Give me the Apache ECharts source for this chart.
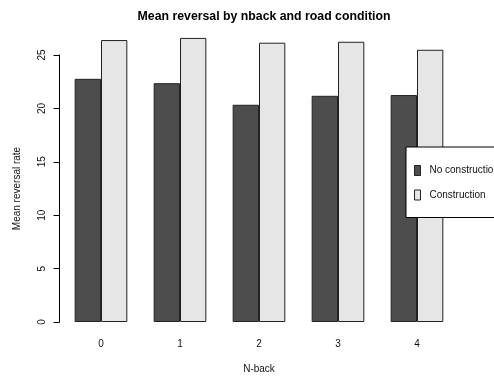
<!DOCTYPE html>
<html>
<head>
<meta charset="utf-8">
<script src="https://cdn.jsdelivr.net/npm/echarts@6/dist/echarts.min.js"></script>
<style>
  html, body { margin: 0; padding: 0; background: #fff; }
  #chart { width: 494px; height: 379px; }
</style>
</head>
<body>
<div id="chart"></div>
<script>
// N-back levels shown along the x axis
const nbackLevels = ['0', '1', '2', '3', '4'];
// Mean reversal rate per condition
const noConstruction = [22.77, 22.36, 20.34, 21.18, 21.25];
const construction = [26.40, 26.60, 26.15, 26.24, 25.49];
// Y axis tick values
const yTicks = [0, 5, 10, 15, 20, 25];

const FONT = '"Liberation Sans", Arial, sans-serif';
const chart = echarts.init(document.getElementById('chart'), null, { renderer: 'canvas' });

chart.setOption({
  animation: false,
  backgroundColor: '#ffffff',
  title: {
    text: 'Mean reversal by nback and road condition',
    left: 259,
    top: 6,
    textAlign: 'center',
    textStyle: { fontFamily: FONT, fontSize: 12.3, fontWeight: 'bold', color: '#000' }
  },
  grid: { left: 61.5, right: 37.5, top: 55, bottom: 55.5, containLabel: false },
  legend: {
    orient: 'vertical',
    left: 406,
    top: 147,
    padding: [18, 120, 17, 8],
    itemGap: 13.5,
    itemWidth: 6,
    itemHeight: 10,
    backgroundColor: '#ffffff',
    borderColor: '#000000',
    borderWidth: 1,
    borderRadius: 0,
    icon: 'rect',
    textStyle: { fontFamily: FONT, fontSize: 10, color: '#111', padding: [0, 0, 0, 4] },
    data: [
      { name: 'No construction', itemStyle: { color: '#4d4d4d', borderColor: '#222', borderWidth: 1 } },
      { name: 'Construction', itemStyle: { color: '#e6e6e6', borderColor: '#222', borderWidth: 1 } }
    ]
  },
  xAxis: {
    type: 'category',
    data: nbackLevels,
    boundaryGap: true,
    axisLine: { show: false },
    axisTick: { show: false },
    axisLabel: { margin: 17, fontFamily: FONT, fontSize: 10, color: '#111' },
    name: 'N-back',
    nameLocation: 'middle',
    nameGap: 42,
    nameTextStyle: { fontFamily: FONT, fontSize: 10, color: '#111' }
  },
  yAxis: {
    type: 'value',
    min: 0,
    max: 25,
    interval: 5,
    offset: 2,
    splitLine: { show: false },
    axisLine: { show: true, lineStyle: { color: '#000', width: 1 } },
    axisTick: { show: true, length: 6, lineStyle: { color: '#000' }, customValues: yTicks },
    axisLabel: { rotate: 90, margin: 12, fontFamily: FONT, fontSize: 10, color: '#111', customValues: yTicks },
    name: 'Mean reversal rate',
    nameLocation: 'middle',
    nameGap: 37,
    nameTextStyle: { fontFamily: FONT, fontSize: 10, color: '#111' }
  },
  series: [
    {
      name: 'No construction',
      type: 'bar',
      data: noConstruction,
      barWidth: '33.333%',
      barGap: '0%',
      clip: false,
      itemStyle: { color: '#4d4d4d', borderColor: '#222', borderWidth: 1 }
    },
    {
      name: 'Construction',
      type: 'bar',
      data: construction,
      barWidth: '33.333%',
      barGap: '0%',
      clip: false,
      itemStyle: { color: '#e6e6e6', borderColor: '#222', borderWidth: 1 }
    }
  ]
});
</script>
</body>
</html>
